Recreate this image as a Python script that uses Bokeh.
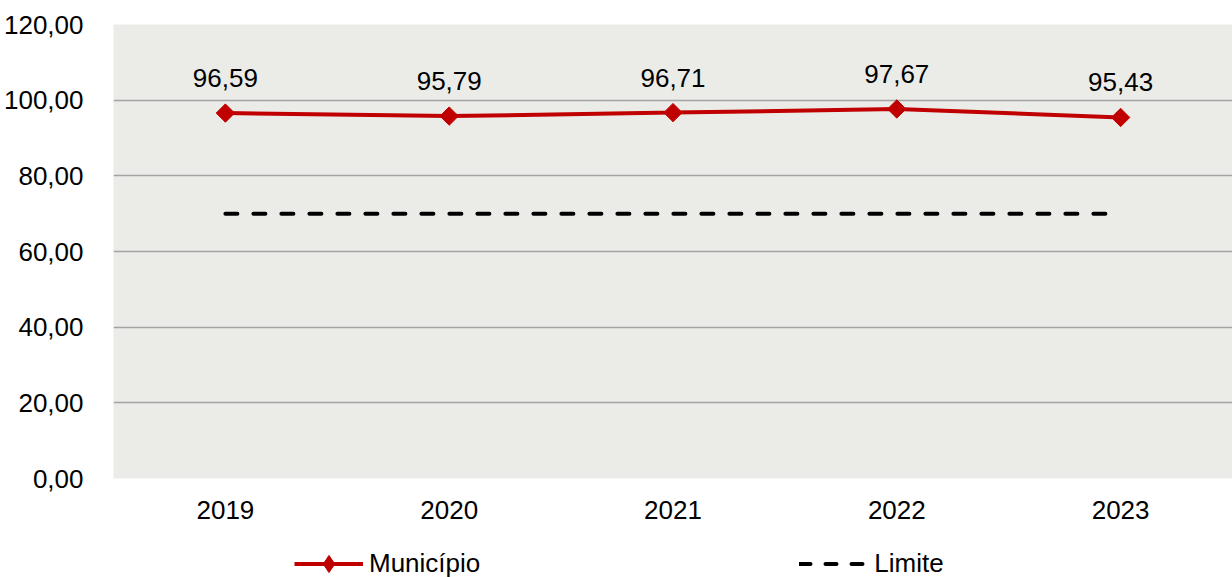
import numpy as np
from bokeh.plotting import figure
from bokeh.layouts import column
from bokeh.models import Legend, LegendItem, FixedTicker, ColumnDataSource
from bokeh.embed import file_html
from bokeh.resources import INLINE
from bokeh.core.properties import value

years = ["2019", "2020", "2021", "2022", "2023"]
municipio = [96.59, 95.79, 96.71, 97.67, 95.43]
limite = [70, 70, 70, 70, 70]
labels = ["96,59", "95,79", "96,71", "97,67", "95,43"]
yticks = [0, 20, 40, 60, 80, 100, 120]
ytick_labels = ["0,00", "20,00", "40,00", "60,00", "80,00", "100,00", "120,00"]

FONT = "Liberation Sans"
FS = "26px"
RED = "#C00000"

src = ColumnDataSource(dict(x=years, y=municipio, lab=labels, lim=limite))

p = figure(x_range=years, y_range=(0, 120), width=1232, height=527,
           output_backend="svg", toolbar_location=None,
           min_border_left=113, min_border_right=0, min_border_top=24, min_border_bottom=49)
p.background_fill_color = "#EBECE8"
p.border_fill_color = "white"
p.outline_line_color = None

p.yaxis.ticker = FixedTicker(ticks=yticks)
p.yaxis.major_label_overrides = {t: l for t, l in zip(yticks, ytick_labels)}
for ax in (p.xaxis[0], p.yaxis[0]):
    ax.axis_line_color = None
    ax.major_tick_line_color = None
    ax.minor_tick_line_color = None
    ax.major_label_text_font = FONT
    ax.major_label_text_font_size = FS
    ax.major_label_text_color = "black"
p.yaxis.major_label_standoff = 24
p.xaxis.major_label_standoff = 16

p.xgrid.grid_line_color = None
p.ygrid.grid_line_color = "#A3A3A3"
p.ygrid.grid_line_width = 1.5
p.ygrid.ticker = FixedTicker(ticks=yticks)

p.line("x", "lim", source=src, line_color="black", line_width=4, line_dash="12 16",
       line_cap="round")
p.line("x", "y", source=src, line_color=RED, line_width=4)
p.scatter("x", "y", source=src, marker="square", angle=np.pi / 4, size=13,
          fill_color=RED, line_color=RED)

p.text("x", "y", text="lab", source=src, text_align="center", text_baseline="middle",
       y_offset=-35, text_font=value(FONT), text_font_size=FS, text_color="black")

# legend strip
lg = figure(width=1232, height=50, x_range=(0, 1), y_range=(0, 1),
            output_backend="svg", toolbar_location=None,
            min_border_left=0, min_border_right=0, min_border_top=0, min_border_bottom=0)
lg.axis.visible = False
lg.grid.visible = False
lg.outline_line_color = None
lg.background_fill_color = "white"
nan = [np.nan]
l1 = lg.line(nan, nan, line_color=RED, line_width=4)
l2 = lg.scatter(nan, nan, marker="diamond", size=17, fill_color=RED, line_color=RED)
l3 = lg.line(nan, nan, line_color="black", line_width=4, line_dash="11 15", line_cap="round")
legend = Legend(items=[LegendItem(label="Município", renderers=[l1, l2]),
                       LegendItem(label="Limite", renderers=[l3])],
                orientation="horizontal", location=(181, -8),
                glyph_width=69, glyph_height=43, spacing=319, padding=0, margin=0,
                label_text_font=FONT, label_text_font_size=FS, label_standoff=6,
                label_text_color="black",
                border_line_color=None, background_fill_alpha=0)
lg.add_layout(legend, "center")

layout = column(p, lg, spacing=0)
open("out.html", "w").write(file_html(layout, INLINE))
